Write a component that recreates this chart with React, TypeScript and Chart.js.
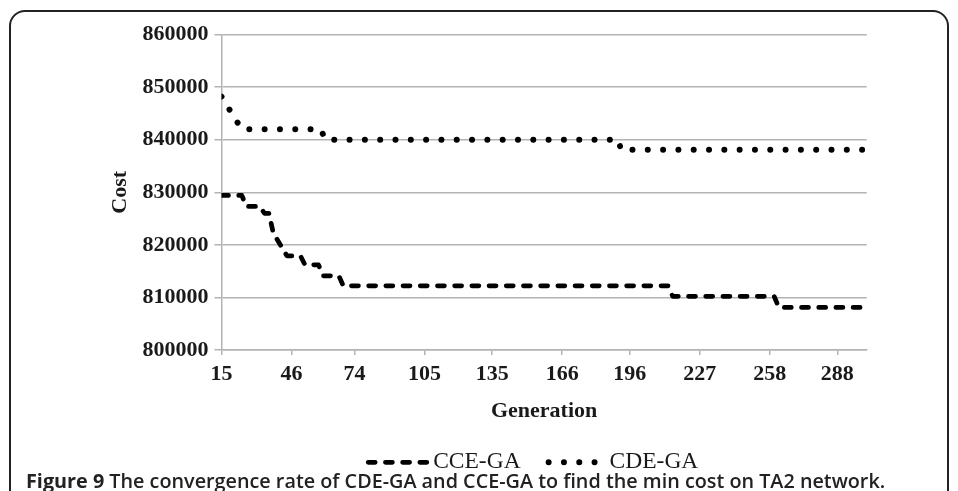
import React, { useEffect, useRef } from "react";
import { Chart, registerables } from "chart.js";

Chart.register(...registerables);

// ---- data ----
const cceGeneration = [15, 24, 26, 32, 34, 36, 38, 44, 50, 52, 58, 60, 67, 69, 213, 215, 260, 262, 301];
const cceCost = [829400, 829400, 827300, 827300, 826000, 826000, 822200, 817900, 817900, 816200, 816200, 814100, 814100, 812200, 812200, 810200, 810200, 808100, 808100];
const cdeGeneration = [15, 18, 21, 24, 59, 61, 191, 192, 301];
const cdeCost = [848200, 846100, 844000, 842000, 842000, 840000, 840000, 838100, 838100];
const xTickValues = [15, 46, 74, 105, 135, 166, 196, 227, 258, 288];
const xMin = 15;
const xMax = 301;
const yMin = 800000;
const yMax = 860000;
const yStep = 10000;
const seriesNames = ["CCE-GA", "CDE-GA"];
const xTitle = "Generation";
const yTitle = "Cost";

const SERIF = "'Liberation Serif', 'Times New Roman', serif";
const TEXT = "#1a1a1a";
const GRID = "#b3b3b3";

const legendPlugin = {
  id: "figLegend",
  afterDraw(chart: any) {
    const { ctx, chartArea } = chart;
    const xs = chart.scales.x;
    const cy = xs.bottom + 37.5;
    ctx.save();
    ctx.font = `23.5px ${SERIF}`;
    const gapText = [4, 12];
    const gapItem = 25;
    const items = chart.data.datasets.map((ds: any) => {
      const dash = ds.borderDash;
      const period = dash[0] + dash[1];
      const len = 3 * period + dash[0];
      return { ds, len, sampleW: len + ds.borderWidth, textW: ctx.measureText(ds.label).width };
    });
    let total = gapItem;
    items.forEach((it: any, i: number) => {
      total += it.sampleW + gapText[i] + it.textW;
    });
    let x = (chartArea.left + chartArea.right) / 2 - total / 2 - 12;
    items.forEach((it: any, i: number) => {
      ctx.beginPath();
      ctx.setLineDash(it.ds.borderDash);
      ctx.lineCap = "round";
      ctx.lineWidth = it.ds.borderWidth;
      ctx.strokeStyle = it.ds.borderColor;
      const x0 = x + it.ds.borderWidth / 2;
      ctx.moveTo(x0, cy);
      ctx.lineTo(x0 + it.len, cy);
      ctx.stroke();
      x += it.sampleW + gapText[i];
      ctx.setLineDash([]);
      ctx.fillStyle = TEXT;
      ctx.textBaseline = "middle";
      ctx.textAlign = "left";
      ctx.fillText(it.ds.label, x, cy);
      x += it.textW + gapItem;
    });
    ctx.restore();
  },
};

export default function App() {
  const ref = useRef<HTMLCanvasElement>(null);

  useEffect(() => {
    Chart.defaults.font.family = SERIF;
    Chart.defaults.color = TEXT;
    const chart = new Chart(ref.current as HTMLCanvasElement, {
      type: "line",
      data: {
        datasets: [
          {
            label: seriesNames[0],
            data: cceGeneration.map((g, i) => ({ x: g, y: cceCost[i] })),
            borderColor: "#000",
            borderWidth: 4.7,
            borderDash: [7, 10.2],
            borderCapStyle: "round",
            borderJoinStyle: "round",
            pointRadius: 0,
            fill: false,
            tension: 0,
          },
          {
            label: seriesNames[1],
            data: cdeGeneration.map((g, i) => ({ x: g, y: cdeCost[i] })),
            borderColor: "#000",
            borderWidth: 6,
            borderDash: [0.01, 15.3],
            borderCapStyle: "round",
            borderJoinStyle: "round",
            pointRadius: 0,
            fill: false,
            tension: 0,
          },
        ],
      } as any,
      options: {
        animation: false,
        responsive: true,
        maintainAspectRatio: false,
        layout: { padding: { left: 107.3, right: 91.3, top: 34.5, bottom: 66.2 } },
        plugins: { legend: { display: false }, tooltip: { enabled: false } },
        scales: {
          x: {
            type: "linear",
            min: xMin,
            max: xMax,
            afterBuildTicks: (s: any) => {
              s.ticks = xTickValues.map((v) => ({ value: v }));
            },
            afterFit: (s: any) => {
              s.height = 74.8;
            },
            grid: { drawOnChartArea: false, drawTicks: true, tickLength: 5, color: GRID, lineWidth: 1.5 },
            border: { color: GRID, width: 1.5 },
            ticks: {
              padding: 6,
              autoSkip: false,
              maxRotation: 0,
              color: TEXT,
              font: { size: 22, weight: "bold" },
              callback: (v: any) => String(v),
            },
            title: {
              display: true,
              text: xTitle,
              color: TEXT,
              font: { size: 22, weight: "bold" },
              padding: { top: 0, bottom: 0 },
            },
          },
          y: {
            type: "linear",
            min: yMin,
            max: yMax,
            afterFit: (s: any) => {
              s.width = 114.2;
            },
            grid: { color: GRID, lineWidth: 1.5, tickLength: 7, drawTicks: true },
            border: { color: GRID, width: 1.5 },
            ticks: {
              stepSize: yStep,
              padding: 6,
              color: TEXT,
              font: { size: 22, weight: "bold" },
              callback: (v: any) => String(v),
            },
            title: {
              display: true,
              text: yTitle,
              color: TEXT,
              font: { size: 22, weight: "bold" },
              padding: { top: 0, bottom: 0 },
            },
          },
        },
      } as any,
      plugins: [legendPlugin],
    });
    return () => chart.destroy();
  }, []);

  return (
    <div style={{ position: "fixed", inset: 0, overflow: "hidden", background: "#fff" }}>
      <div
        style={{
          position: "absolute",
          left: 9,
          top: 10,
          width: 940,
          height: 620,
          border: "2px solid #222",
          borderRadius: 16,
          boxSizing: "border-box",
        }}
      />
      <div style={{ position: "absolute", left: 0, top: 0, width: 958, height: 491 }}>
        <canvas ref={ref} />
      </div>
      <div
        style={{
          position: "absolute",
          left: 26,
          top: 469.5,
          fontFamily: "'Open Sans', 'Noto Sans', sans-serif",
          fontSize: 19.8,
          fontWeight: 600,
          color: "#222",
          whiteSpace: "nowrap",
          lineHeight: "22px",
        }}
      >
        <span style={{ fontWeight: 700 }}>Figure 9</span> The convergence rate of CDE-GA and CCE-GA to find the min cost on TA2 network.
      </div>
    </div>
  );
}
